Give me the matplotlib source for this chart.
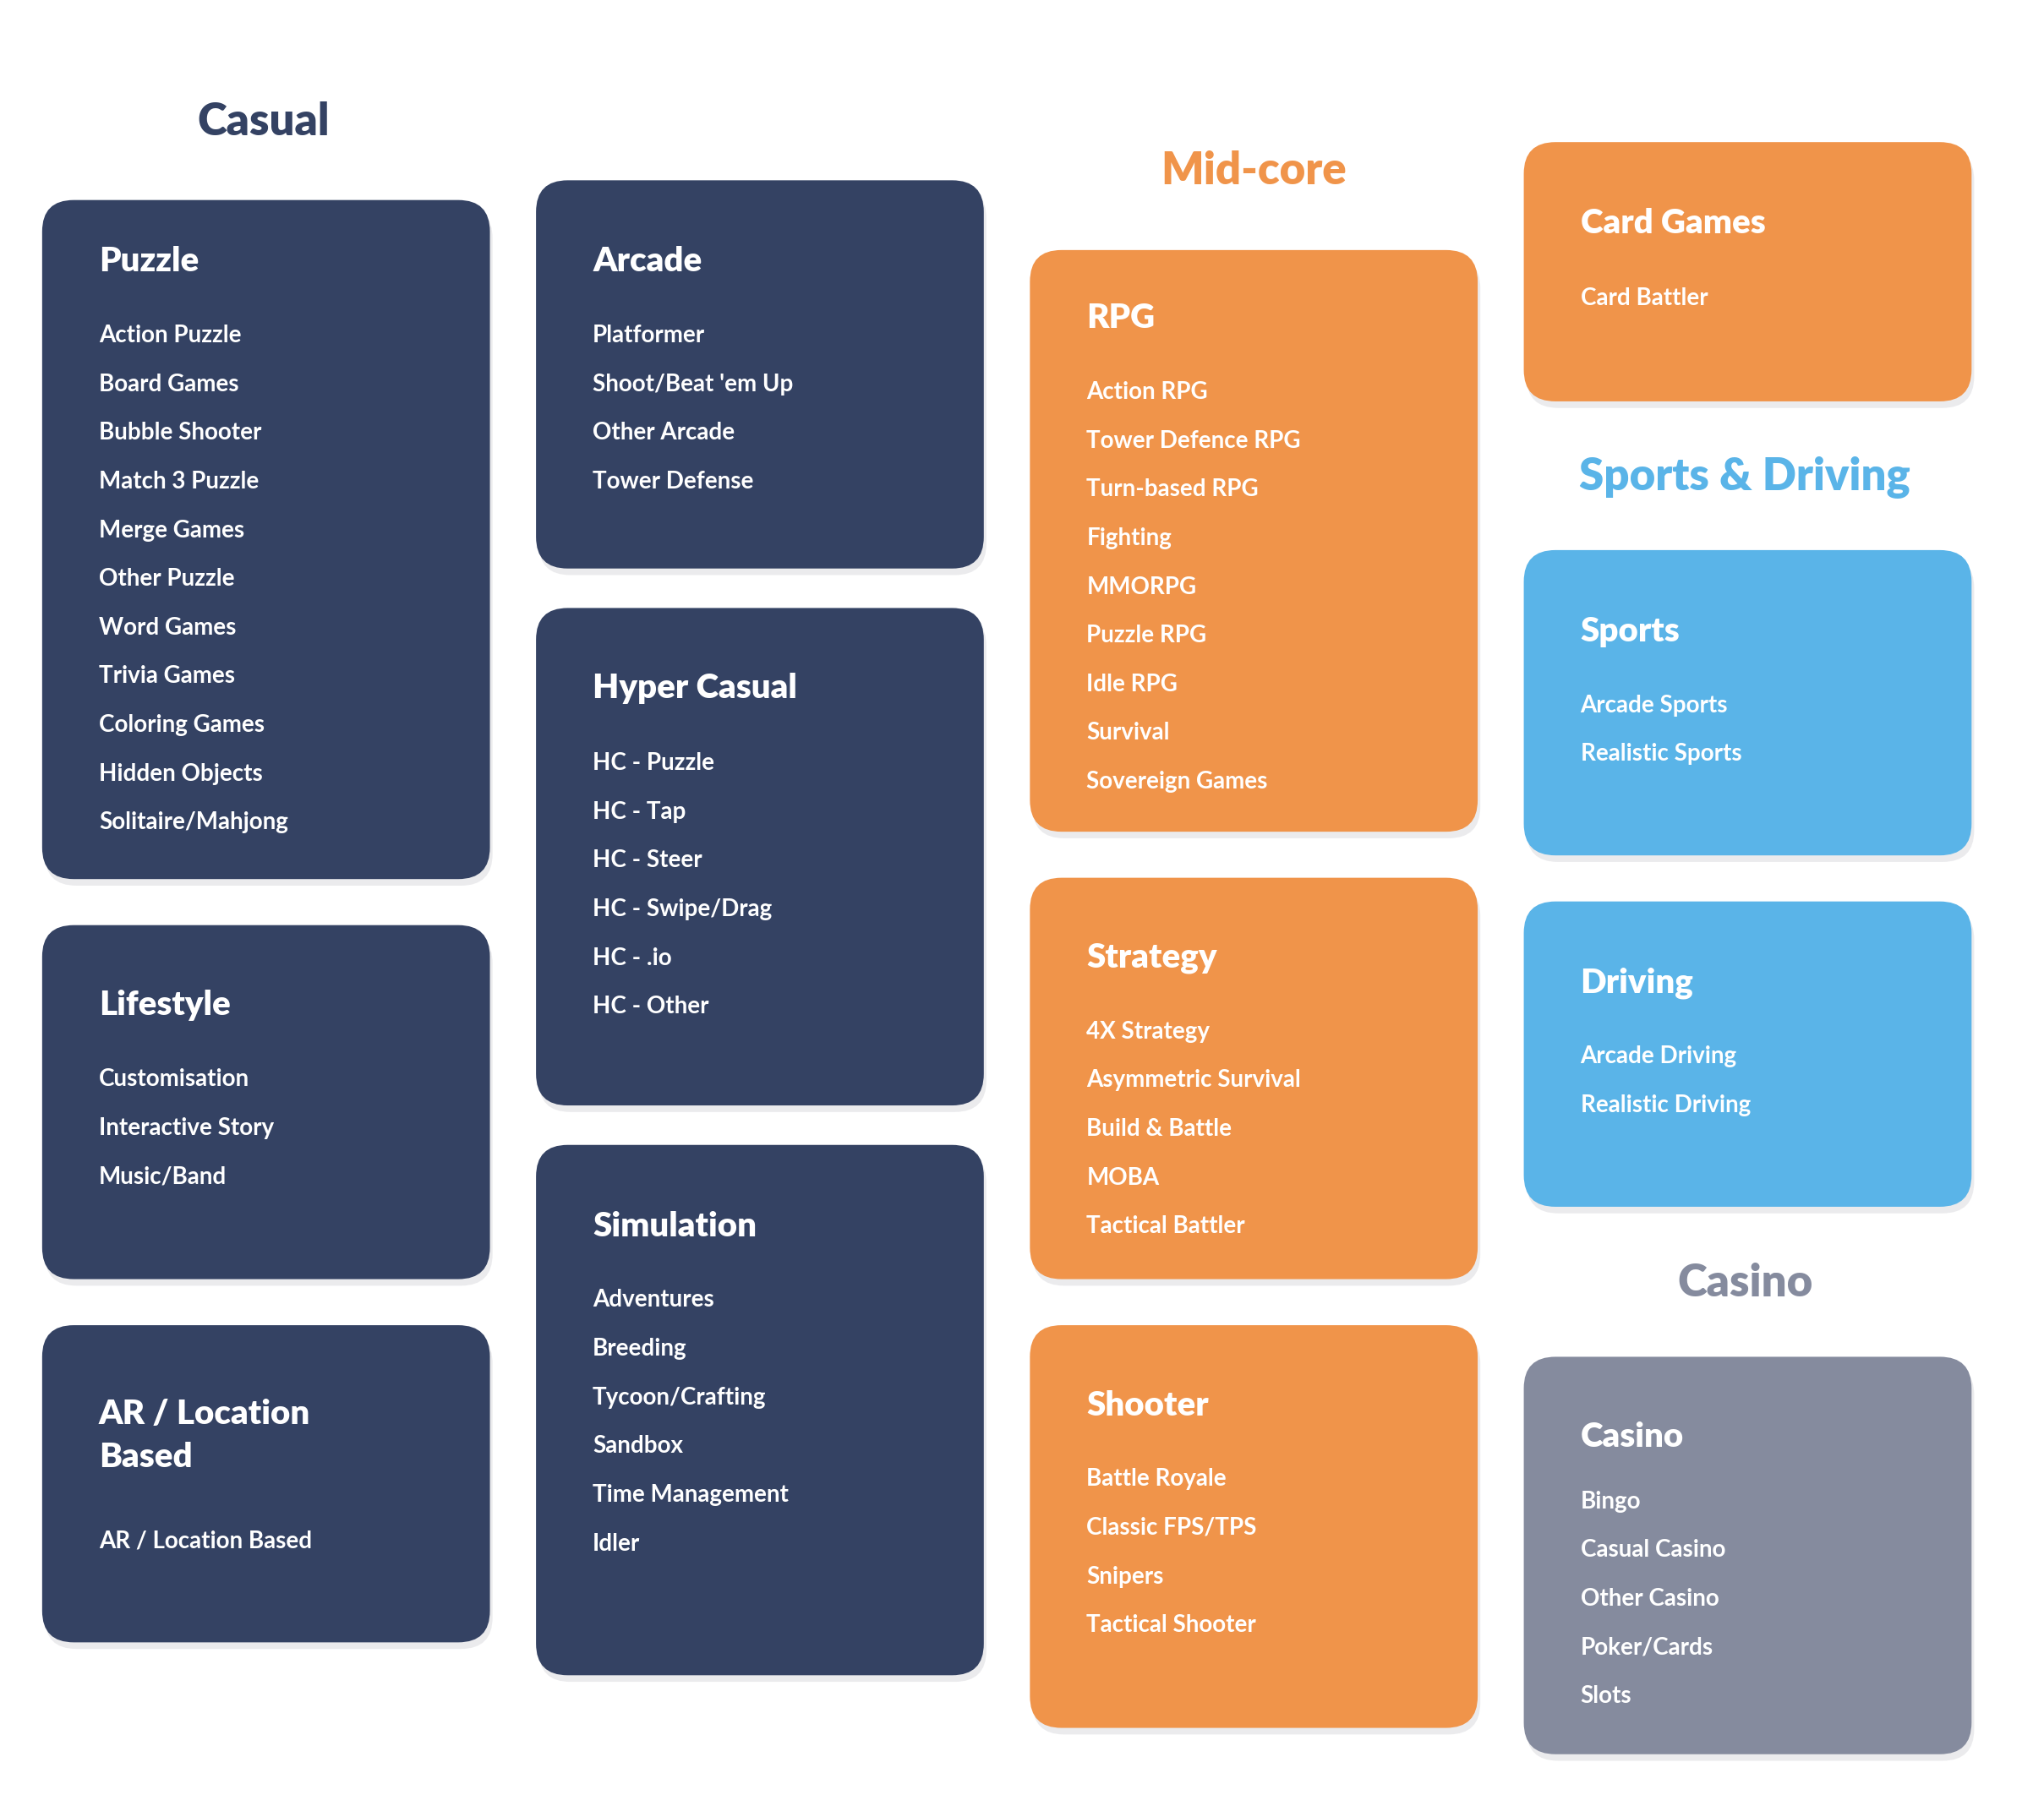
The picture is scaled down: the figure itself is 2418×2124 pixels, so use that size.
import matplotlib
matplotlib.use("Agg")
import matplotlib.pyplot as plt
from matplotlib.patches import FancyBboxPatch

W, H = 1552, 1364
navy, orange, blue, grey = "#344263", "#F0944A", "#5AB4E8", "#858B9E"

titles = ["Puzzle", "Lifestyle", "AR / Location\nBased", "Arcade", "Hyper Casual", "Simulation",
          "RPG", "Strategy", "Shooter", "Card Games", "Sports", "Driving", "Casino"]
items = [
    ["Action Puzzle", "Board Games", "Bubble Shooter", "Match 3 Puzzle", "Merge Games", "Other Puzzle",
     "Word Games", "Trivia Games", "Coloring Games", "Hidden Objects", "Solitaire/Mahjong"],
    ["Customisation", "Interactive Story", "Music/Band"],
    ["AR / Location Based"],
    ["Platformer", "Shoot/Beat 'em Up", "Other Arcade", "Tower Defense"],
    ["HC - Puzzle", "HC - Tap", "HC - Steer", "HC - Swipe/Drag", "HC - .io", "HC - Other"],
    ["Adventures", "Breeding", "Tycoon/Crafting", "Sandbox", "Time Management", "Idler"],
    ["Action RPG", "Tower Defence RPG", "Turn-based RPG", "Fighting", "MMORPG", "Puzzle RPG",
     "Idle RPG", "Survival", "Sovereign Games"],
    ["4X Strategy", "Asymmetric Survival", "Build & Battle", "MOBA", "Tactical Battler"],
    ["Battle Royale", "Classic FPS/TPS", "Snipers", "Tactical Shooter"],
    ["Card Battler"],
    ["Arcade Sports", "Realistic Sports"],
    ["Arcade Driving", "Realistic Driving"],
    ["Bingo", "Casual Casino", "Other Casino", "Poker/Cards", "Slots"],
]
boxes = [(32,152,372,668),(32,703,372,972),(32,1007,372,1248),(407,137,747,432),(407,462,747,840),
         (407,870,747,1273),(782,190,1122,632),(782,667,1122,972),(782,1007,1122,1313),
         (1157,108,1497,305),(1157,418,1497,650),(1157,685,1497,917),(1157,1031,1497,1333)]
title_y = [199,764,1091,199,523,932,242,728,1068,170,480,747,1092]
item_y0 = [255,820,1171,255,580,988,298,784,1124,227,536,803,1141]
colors = [navy]*6 + [orange]*3 + [orange, blue, blue, grey]

headings = ["Casual", "Mid-core", "Sports & Driving", "Casino"]
head_pos = [(200,93),(952,130),(1325,363),(1325,975)]
head_col = [navy, orange, blue, grey]

fig = plt.figure(figsize=(24.18, 21.24), dpi=100)
ax = fig.add_axes([0, 0, 1, 1])
ax.set_xlim(0, W); ax.set_ylim(H, 0); ax.axis("off")
fig.patch.set_facecolor("white")

for (x0,y0,x1,y1), t, its, ty, iy, c in zip(boxes, titles, items, title_y, item_y0, colors):
    r = 24
    sh = FancyBboxPatch((x0+r+2, y0+r+5), x1-x0-2*r, y1-y0-2*r, boxstyle=f"round,pad={r}",
                        fc="#d8d8dc", ec="none", alpha=0.5, zorder=1)
    ax.add_patch(sh)
    p = FancyBboxPatch((x0+r, y0+r), x1-x0-2*r, y1-y0-2*r, boxstyle=f"round,pad={r}",
                       fc=c, ec="none", zorder=2)
    ax.add_patch(p)
    ax.text(x0+43, ty, t, color="white", fontsize=29, fontweight="heavy", family="Lato",
            va="center", ha="left", zorder=3, linespacing=1.45)
    for k, it in enumerate(its):
        ax.text(x0+43, iy+37*k, it, color="white", fontsize=20, fontweight="bold", family="Lato",
                va="center", ha="left", zorder=3)

for h, (x, y), c in zip(headings, head_pos, head_col):
    ax.text(x, y, h, color=c, fontsize=38, fontweight="heavy", family="Lato", ha="center", va="center")

fig.savefig("out.png", dpi=100)
